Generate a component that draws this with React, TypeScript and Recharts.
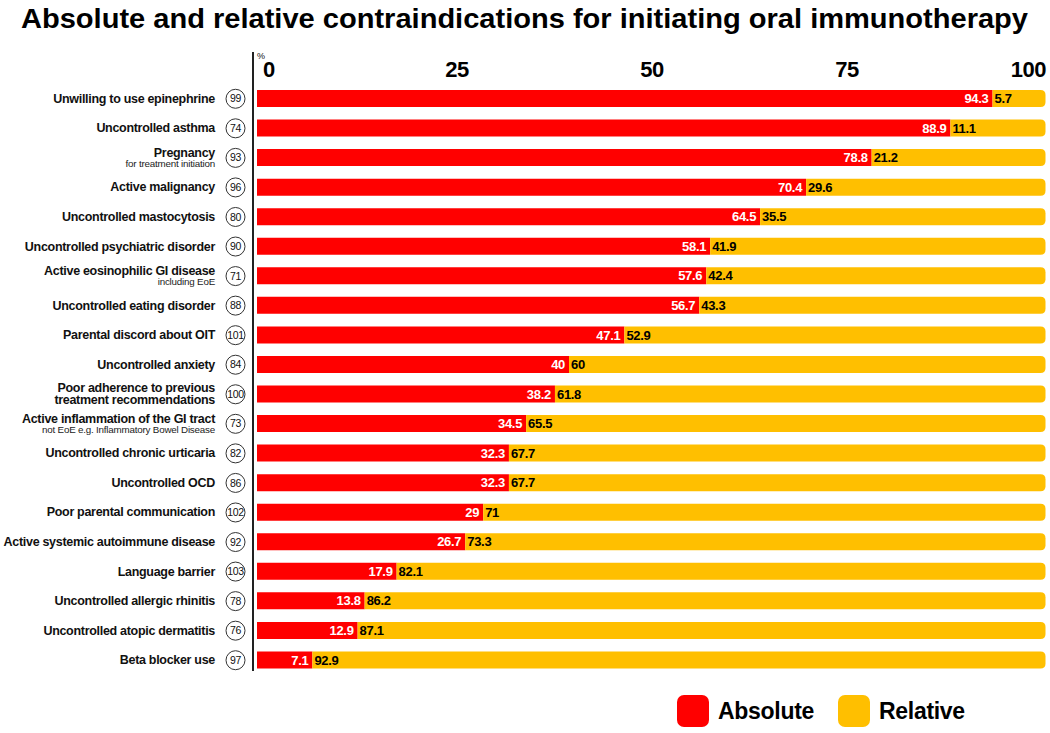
import { BarChart, Bar, XAxis, YAxis, LabelList } from "recharts";

// row labels ("\n" splits two bold lines), small grey subtitles, respondents
const categories = [
  "Unwilling to use epinephrine",
  "Uncontrolled asthma",
  "Pregnancy",
  "Active malignancy",
  "Uncontrolled mastocytosis",
  "Uncontrolled psychiatric disorder",
  "Active eosinophilic GI disease",
  "Uncontrolled eating disorder",
  "Parental discord about OIT",
  "Uncontrolled anxiety",
  "Poor adherence to previous\ntreatment recommendations",
  "Active inflammation of the GI tract",
  "Uncontrolled chronic urticaria",
  "Uncontrolled OCD",
  "Poor parental communication",
  "Active systemic autoimmune disease",
  "Language barrier",
  "Uncontrolled allergic rhinitis",
  "Uncontrolled atopic dermatitis",
  "Beta blocker use",
];

const subLabels = [
  "", "", "for treatment initiation", "", "", "", "including EoE", "", "", "",
  "", "not EoE e.g. Inflammatory Bowel Disease", "", "", "", "", "", "", "", "",
];

const respondents = [99, 74, 93, 96, 80, 90, 71, 88, 101, 84, 100, 73, 82, 86, 102, 92, 103, 78, 76, 97];

const absolute = [94.3, 88.9, 78.8, 70.4, 64.5, 58.1, 57.6, 56.7, 47.1, 40, 38.2, 34.5, 32.3, 32.3, 29, 26.7, 17.9, 13.8, 12.9, 7.1];
const relative = [5.7, 11.1, 21.2, 29.6, 35.5, 41.9, 42.4, 43.3, 52.9, 60, 61.8, 65.5, 67.7, 67.7, 71, 73.3, 82.1, 86.2, 87.1, 92.9];

const xTicks = [0, 25, 50, 75, 100];

const series = [
  { key: "absolute", name: "Absolute", color: "#FF0000" },
  { key: "relative", name: "Relative", color: "#FFBF00" },
];

const data = categories.map((name, i) => ({
  name,
  absolute: absolute[i],
  relative: relative[i],
}));

const FONT = "'Liberation Sans', Arial, Helvetica, sans-serif";

const CategoryTick = (props: any) => {
  const { x, y, payload } = props;
  const i = categories.indexOf(payload.value);
  const lines = categories[i].split("\n");
  const sub = subLabels[i];
  const tx = x - 42;
  const bold = { fontFamily: FONT, fontWeight: 700, fontSize: 12.5, letterSpacing: -0.3, fill: "#111" };
  let content;
  if (lines.length === 2) {
    content = (
      <g>
        <text x={tx} y={y - 2.5} textAnchor="end" {...bold}>{lines[0]}</text>
        <text x={tx} y={y + 9.5} textAnchor="end" {...bold}>{lines[1]}</text>
      </g>
    );
  } else if (sub) {
    content = (
      <g>
        <text x={tx} y={y - 1} textAnchor="end" {...bold}>{lines[0]}</text>
        <text x={tx} y={y + 9} textAnchor="end" fontFamily={FONT} fontSize={9.8} letterSpacing={-0.2} fill="#222">
          {sub}
        </text>
      </g>
    );
  } else {
    content = <text x={tx} y={y + 4} textAnchor="end" {...bold}>{lines[0]}</text>;
  }
  return (
    <g>
      {content}
      <circle cx={x - 21.5} cy={y} r={9.5} fill="#fff" stroke="#333" strokeWidth={1} />
      <text x={x - 21.5} y={y + 3.6} textAnchor="middle" fontFamily={FONT} fontSize={10.5} letterSpacing={-0.3} fill="#111">
        {respondents[i]}
      </text>
    </g>
  );
};

const ValueTick = (props: any) => {
  const { x, y, payload } = props;
  const v = payload.value;
  const anchor = v === 0 ? "start" : v === 100 ? "end" : "middle";
  const dx = v === 0 ? 6 : v === 100 ? 9 : 5;
  return (
    <g>
      {v === 0 && (
        <text x={x} y={y - 17} fontFamily={FONT} fontSize={9} fill="#111">%</text>
      )}
      <text x={x + dx} y={y + 0.5} textAnchor={anchor} fontFamily={FONT} fontWeight={700} fontSize={22} letterSpacing={-0.5} fill="#000">
        {v}
      </text>
    </g>
  );
};

// relative segment: rounded cap on the right end
const RelativeShape = (props: any) => {
  const { x, y, width, height, fill } = props;
  const r = 5;
  const w = width + 8.5;
  const d = `M${x},${y} H${x + w - r} Q${x + w},${y} ${x + w},${y + r} V${y + height - r} Q${x + w},${y + height} ${x + w - r},${y + height} H${x} Z`;
  return <path d={d} fill={fill} />;
};

export default function App() {
  return (
    <div style={{ position: "absolute", left: 0, top: 0, width: 1050, height: 733, background: "#fff", fontFamily: FONT }}>
      <svg width={1050} height={42} style={{ position: "absolute", left: 0, top: 0 }}>
        <text x={21} y={28} textLength={1007} lengthAdjust="spacingAndGlyphs" fontFamily={FONT} fontWeight={700} fontSize={27} fill="#000">
          Absolute and relative contraindications for initiating oral immunotherapy
        </text>
      </svg>
      <div style={{ position: "absolute", left: 252, top: 52, width: 1.5, height: 619, background: "#222" }} />
      <div style={{ position: "absolute", left: 0, top: 0 }}>
        <BarChart
          width={1050}
          height={733}
          data={data}
          layout="vertical"
          margin={{ top: 54, right: 13, bottom: 58, left: 0 }}
          barSize={17}
        >
          <XAxis
            type="number"
            orientation="top"
            domain={[0, 100]}
            ticks={xTicks}
            height={30}
            axisLine={false}
            tickLine={false}
            tick={<ValueTick />}
          />
          <YAxis
            type="category"
            dataKey="name"
            width={257}
            axisLine={false}
            tickLine={false}
            tickSize={0}
            tickMargin={0}
            interval={0}
            tick={<CategoryTick />}
          />
          <Bar dataKey="absolute" stackId="a" fill={series[0].color} isAnimationActive={false}>
            <LabelList dataKey="absolute" position="insideRight" offset={4} fill="#fff" fontFamily={FONT} fontWeight={700} fontSize={13} letterSpacing={-0.3} />
          </Bar>
          <Bar dataKey="relative" stackId="a" fill={series[1].color} shape={<RelativeShape />} isAnimationActive={false}>
            <LabelList dataKey="relative" position="insideLeft" offset={2} fill="#000" fontFamily={FONT} fontWeight={700} fontSize={13} letterSpacing={-0.3} />
          </Bar>
        </BarChart>
      </div>
      <div style={{ position: "absolute", left: 677, top: 695, display: "flex", alignItems: "center", gap: 24 }}>
        {series.map((s) => (
          <div key={s.key} style={{ display: "flex", alignItems: "center", gap: 9 }}>
            <div style={{ width: 32, height: 32, borderRadius: 7, background: s.color }} />
            <span style={{ fontSize: 23, fontWeight: 700, letterSpacing: -0.3, color: "#000", lineHeight: "32px" }}>{s.name}</span>
          </div>
        ))}
      </div>
    </div>
  );
}
